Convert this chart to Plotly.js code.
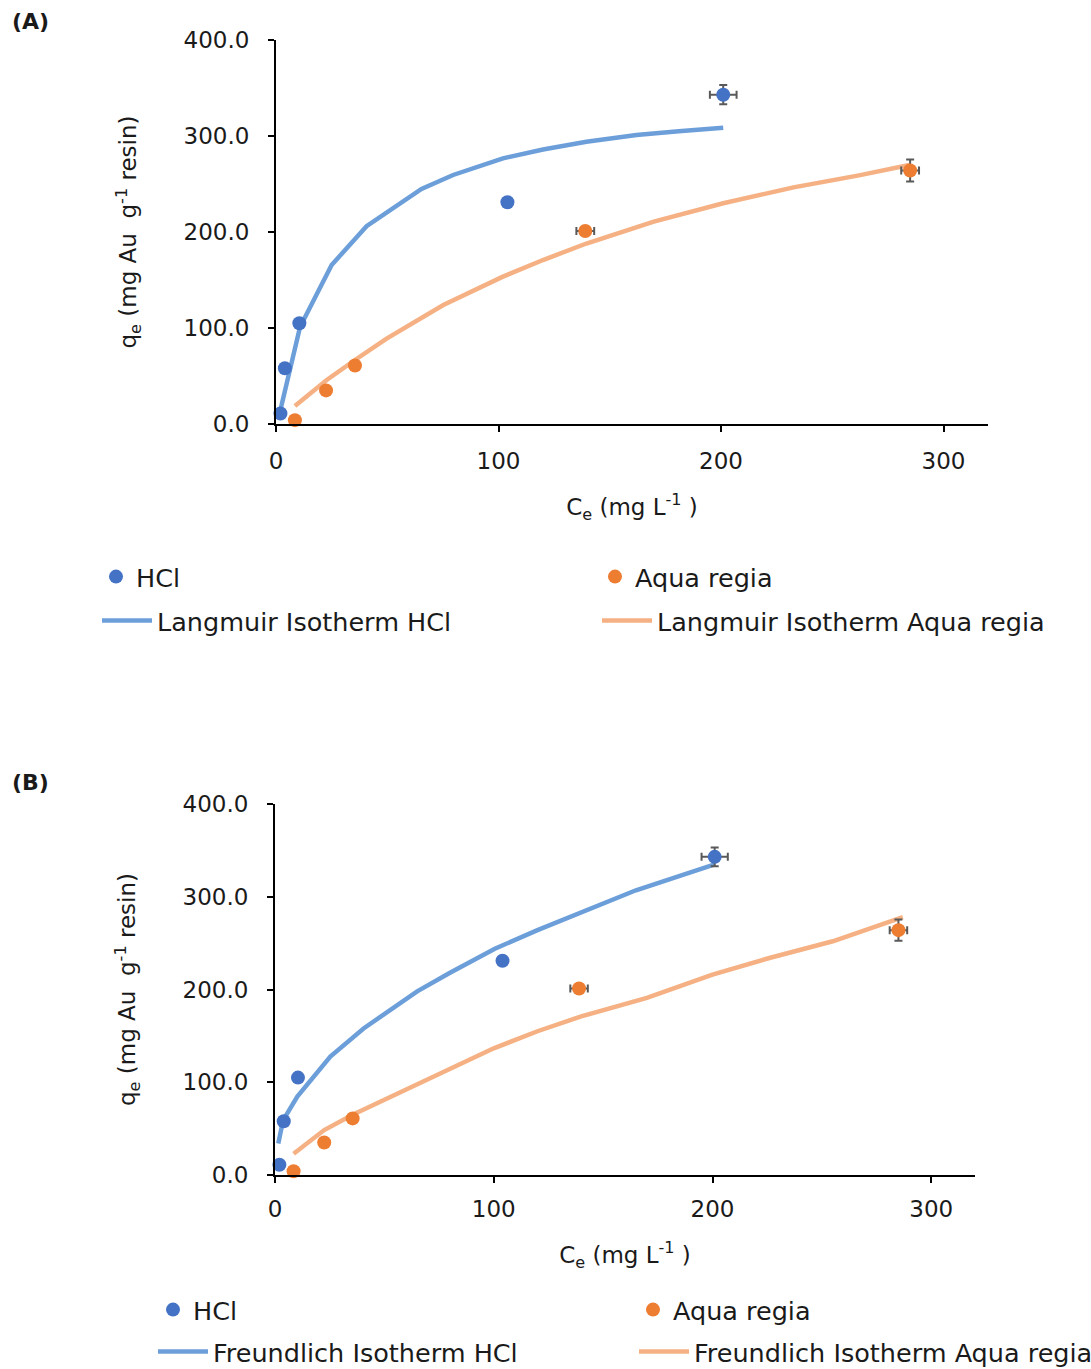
<!DOCTYPE html>
<html>
<head>
<meta charset="utf-8">
<script src="https://cdn.plot.ly/plotly-3.0.1.min.js"></script>
<style>html,body{margin:0;padding:0;background:#fff;}</style>
</head>
<body>
<div id="chart" style="width:1091px;height:1369px;"></div>
<script>
// ---- Data ----
var hclCe    = [2, 4, 10.5, 104, 201];
var hclQe    = [11, 58, 105, 231, 343];
var hclCeErr = [0.5, 0.5, 0.5, 1.0, 6];
var hclQeErr = [2, 2, 3, 4, 10];

var arCe    = [8.5, 22.5, 35.5, 139, 285];
var arQe    = [4, 35, 61, 201, 264];
var arCeErr = [0.5, 0.5, 0.5, 4, 4];
var arQeErr = [1, 1, 2, 1.5, 11.5];

var langHclCe = [1.8, 10.8, 25, 40.7, 65.4, 79.6, 102, 120, 139.5, 162, 181, 201];
var langHclQe = [12.8, 101, 165.6, 206, 244.8, 259.4, 276.7, 286, 294, 301, 305, 308.7];

var langArCe = [8.5, 22.8, 35.5, 49.7, 75.2, 102, 120, 139.5, 169.8, 201, 232.6, 262, 284.6];
var langArQe = [18.8, 45.8, 66.7, 89, 124, 153.5, 170.8, 188, 210.8, 229.9, 246.5, 259, 269.8];

var freHclCe = [1.5, 3.7, 10.2, 25.3, 40.5, 65, 80, 100.5, 120, 140, 165, 201];
var freHclQe = [34, 59, 84.5, 127.6, 158, 198, 218, 244, 264, 283, 307, 335];

var freArCe = [8.5, 22.5, 35.5, 50, 75, 100, 120, 140, 170, 200, 226, 255, 287];
var freArQe = [23, 48.5, 65, 81, 109, 136.6, 155, 171, 191, 216, 234, 252, 278];

var xTickVals = [0, 100, 200, 300];
var yTickVals = [0, 100, 200, 300, 400];

// ---- Styles ----
var W = 1091, H = 1369;
var FONT = 'DejaVu Sans';
var blueMk = '#4472C4', orangeMk = '#ED7D31';
var blueLn = '#6C9FD9', orangeLn = '#F5B183';
var errCol = '#595959';

function px2x(p){ return p / W; }
function py2y(p){ return 1 - p / H; }

function markerTrace(name, ce, qe, ceErr, qeErr, color, xa, ya, leg){
  return {
    type:'scatter', mode:'markers', name:name, x:ce, y:qe,
    xaxis:xa, yaxis:ya, legend:leg, cliponaxis:false,
    marker:{color:color, size:14},
    error_x:{type:'data', array:ceErr, visible:true, color:errCol, thickness:2, width:4},
    error_y:{type:'data', array:qeErr, visible:true, color:errCol, thickness:2, width:4}
  };
}
function lineTrace(name, ce, qe, color, xa, ya, leg){
  return {
    type:'scatter', mode:'lines', name:name, x:ce, y:qe,
    xaxis:xa, yaxis:ya, legend:leg, cliponaxis:false,
    line:{color:color, width:4.5}
  };
}

var data = [
  lineTrace('Langmuir Isotherm HCl', langHclCe, langHclQe, blueLn, 'x', 'y', 'legend3'),
  lineTrace('Langmuir Isotherm Aqua regia', langArCe, langArQe, orangeLn, 'x', 'y', 'legend4'),
  markerTrace('HCl', hclCe, hclQe, hclCeErr, hclQeErr, blueMk, 'x', 'y', 'legend'),
  markerTrace('Aqua regia', arCe, arQe, arCeErr, arQeErr, orangeMk, 'x', 'y', 'legend2'),
  lineTrace('Freundlich Isotherm HCl', freHclCe, freHclQe, blueLn, 'x2', 'y2', 'legend7'),
  lineTrace('Freundlich Isotherm Aqua regia', freArCe, freArQe, orangeLn, 'x2', 'y2', 'legend8'),
  markerTrace('HCl', hclCe, hclQe, hclCeErr, hclQeErr, blueMk, 'x2', 'y2', 'legend5'),
  markerTrace('Aqua regia', arCe, arQe, arCeErr, arQeErr, orangeMk, 'x2', 'y2', 'legend6')
];

var tickFont = {family:FONT, size:23, color:'#1a1a1a'};
var titleFont = {family:FONT, size:23, color:'#1a1a1a'};

function xAxis(domain, anchor, labelGap){
  return {
    domain:domain, anchor:anchor, range:[0, 320], autorange:false,
    tickvals:xTickVals, ticktext:xTickVals.map(String),
    showgrid:false, zeroline:false, showline:true, linecolor:'#000', linewidth:2,
    ticks:'outside', ticklen:6, tickwidth:2, tickcolor:'#000',
    tickfont:tickFont, ticklabelstandoff:labelGap,
    title:{text:'C<sub>e</sub> (mg L<sup>-1</sup> )', font:titleFont, standoff:26}
  };
}
function yAxis(domain, anchor){
  return {
    domain:domain, anchor:anchor, range:[0, 400], autorange:false,
    tickvals:yTickVals, tickformat:'.1f',
    showgrid:false, zeroline:false, showline:true, linecolor:'#000', linewidth:2,
    ticks:'outside', ticklen:6, tickwidth:2, tickcolor:'#000',
    tickfont:tickFont, ticklabelstandoff:14,
    title:{text:'q<sub>e</sub> (mg Au&nbsp; g<sup>-1</sup> resin)', font:titleFont, standoff:40}
  };
}

function legendAt(xpx, ypx, iw){
  return {
    x:px2x(xpx), y:py2y(ypx), xanchor:'left', yanchor:'middle',
    xref:'paper', yref:'paper', bgcolor:'rgba(0,0,0,0)', borderwidth:0,
    font:{family:FONT, size:25.5, color:'#1a1a1a'}, itemwidth:iw || 30, itemclick:false
  };
}

var layout = {
  width:W, height:H,
  margin:{l:0, r:0, t:0, b:0, autoexpand:false},
  paper_bgcolor:'#fff', plot_bgcolor:'#fff',
  showlegend:true,
  xaxis: xAxis([px2x(276), px2x(988)], 'y', 9),
  yaxis: yAxis([py2y(424), py2y(40)], 'x'),
  xaxis2: xAxis([px2x(275), px2x(975)], 'y2', 6),
  yaxis2: yAxis([py2y(1175), py2y(804)], 'x2'),
  legend:  legendAt(96, 577),
  legend2: legendAt(595, 577),
  legend3: legendAt(97, 621, 50),
  legend4: legendAt(597, 621, 50),
  legend5: legendAt(153, 1310),
  legend6: legendAt(633, 1310),
  legend7: legendAt(153, 1352, 50),
  legend8: legendAt(634, 1352, 50),
  annotations:[
    {text:'<b>(A)</b>', x:px2x(10), y:py2y(22), xref:'paper', yref:'paper', xanchor:'left', yanchor:'middle', showarrow:false, font:{family:FONT, size:22, color:'#1a1a1a'}},
    {text:'<b>(B)</b>', x:px2x(10), y:py2y(782), xref:'paper', yref:'paper', xanchor:'left', yanchor:'middle', showarrow:false, font:{family:FONT, size:22, color:'#1a1a1a'}}
  ]
};

Plotly.newPlot('chart', data, layout, {displayModeBar:false, staticPlot:true});
</script>
</body>
</html>
